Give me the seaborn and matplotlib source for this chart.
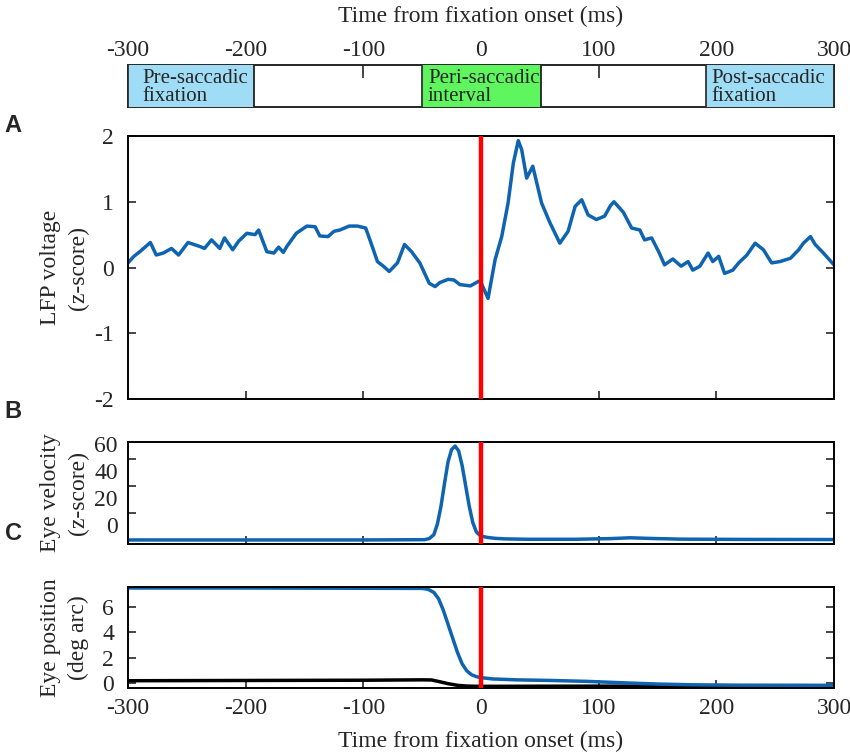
import numpy as np
import pandas as pd
import matplotlib
matplotlib.use("Agg")
import matplotlib.pyplot as plt
import matplotlib.transforms as mtransforms
import seaborn as sns

# ----------------------------------------
# Data
# ----------------------------------------
lfp_t = [-300, -295, -290, -281, -276, -270, -263, -257, -249, -239, -235, -229,
         -222, -218, -211, -206, -199, -192, -189, -182, -176, -172, -168, -165,
         -157, -148, -141, -137, -130, -125, -120, -112, -105, -98, -94, -88,
         -83, -78, -71, -65, -59, -52, -44, -39, -35, -28, -23, -18, -9, -2,
         0, 6, 12, 17.6, 23, 27.5, 31.7, 34.6, 38.8, 44, 51.5, 58.6, 67, 74,
         80, 85.6, 91, 98, 105, 110, 113, 121, 128, 135, 139, 145, 151, 156,
         163, 170, 176, 180, 186, 193, 197, 202, 207, 214, 219, 226, 233, 240,
         247, 254, 263, 270, 274, 280, 284, 291, 300]
lfp_v = [0.07, 0.17, 0.24, 0.38, 0.19, 0.22, 0.29, 0.19, 0.38, 0.32, 0.29, 0.42,
         0.29, 0.45, 0.27, 0.40, 0.52, 0.50, 0.57, 0.24, 0.22, 0.31, 0.23, 0.32,
         0.52, 0.63, 0.62, 0.48, 0.47, 0.55, 0.57, 0.63, 0.63, 0.60, 0.40, 0.09,
         0.02, -0.06, 0.07, 0.35, 0.24, 0.07, -0.24, -0.29, -0.23, -0.18, -0.19,
         -0.26, -0.28, -0.21, -0.23, -0.47, 0.12, 0.47, 0.98, 1.59, 1.93, 1.79,
         1.36, 1.54, 0.98, 0.68, 0.37, 0.55, 0.93, 1.03, 0.80, 0.73, 0.78, 0.94,
         1.00, 0.84, 0.60, 0.57, 0.42, 0.45, 0.24, 0.04, 0.13, 0.02, 0.09, -0.04,
         0.02, 0.22, 0.09, 0.17, -0.09, -0.04, 0.07, 0.19, 0.37, 0.27, 0.07, 0.09,
         0.14, 0.27, 0.37, 0.47, 0.35, 0.22, 0.04]

vel_t = [-300, -200, -100, -48, -44, -40, -37, -34, -31, -28, -25, -22, -19,
         -16, -13, -10, -7, -4, -1, 2, 6, 12, 20, 40, 80, 110, 127, 145, 170,
         220, 300]
vel_v = [0, 0, 0, 0.2, 1, 4, 12, 25, 42, 58, 67, 69.6, 66, 55, 40, 25, 13, 6,
         3.5, 2.5, 1.8, 1.2, 0.8, 0.5, 0.5, 1.0, 1.6, 1.1, 0.6, 0.4, 0.3]
vel_tick_labels = ["0", "20", "40", "60"]

pos_t = [-300, -200, -100, -50, -45, -40, -36, -32, -28, -24, -20, -16, -12,
         -8, -4, 0, 10, 30, 60, 90, 120, 150, 180, 220, 300]
pos_h = [7.45, 7.45, 7.43, 7.42, 7.35, 7.1, 6.6, 5.7, 4.6, 3.5, 2.4, 1.5, 0.95,
         0.65, 0.5, 0.42, 0.32, 0.25, 0.2, 0.13, 0.02, -0.08, -0.14, -0.17, -0.18]
pos2_t = [-300, -200, -100, -50, -42, -35, -28, -20, -12, 0, 50, 150, 300]
pos2_v = [0.18, 0.2, 0.22, 0.25, 0.24, 0.1, -0.05, -0.18, -0.24, -0.26, -0.25,
          -0.24, -0.23]

epoch_names = ["Pre-saccadic\nfixation", "Peri-saccadic\ninterval", "Post-saccadic\nfixation"]
epoch_start = [-300, -50, 191]
epoch_end = [-193, 51, 300]
epoch_colors = ["#9fdcf6", "#5ef55e", "#9fdcf6"]

time_ticks = [-300, -200, -100, 0, 100, 200, 300]

# ----------------------------------------
# Style
# ----------------------------------------
sns.set_style("ticks")
plt.rcParams["font.family"] = ["Liberation Serif", "DejaVu Serif"]
plt.rcParams["axes.unicode_minus"] = False
plt.rcParams["xtick.direction"] = "in"
plt.rcParams["ytick.direction"] = "in"
plt.rcParams["axes.linewidth"] = 1.4
plt.rcParams["xtick.major.width"] = 1.2
plt.rcParams["ytick.major.width"] = 1.2
plt.rcParams["xtick.major.size"] = 6
plt.rcParams["ytick.major.size"] = 6

blue = "#0e64b0"
red = "#ff0000"
fs = 17

fig = plt.figure(figsize=(8.5, 7.53), dpi=100)

W, H = 850.0, 753.0
def add_ax(x0, y0, x1, y1):
    return fig.add_axes([x0 / W, 1 - y1 / H, (x1 - x0) / W, (y1 - y0) / H])

ax_top = add_ax(128, 65, 834, 107)
ax_a = add_ax(128, 136, 834, 399)
ax_b = add_ax(128, 442, 834, 544)
ax_c = add_ax(128, 587, 834, 688)

# ----------------------------------------
# Epoch bar
# ----------------------------------------
ax_top.set_xlim(-300, 300)
ax_top.set_ylim(0, 1)
for name, s, e, c in zip(epoch_names, epoch_start, epoch_end, epoch_colors):
    ax_top.axvspan(s, e, color=c, zorder=3, lw=0)
    ax_top.axvline(s, color="#333333", lw=1.3, zorder=3.5)
    ax_top.axvline(e, color="#222222", lw=1.3, zorder=3.5)
    ax_top.text(s + (12 if s == -300 else 5), 0.47, name, fontsize=15,
                va="center", ha="left", linespacing=0.92, zorder=4)
ax_top.xaxis.tick_top()
ax_top.xaxis.set_label_position("top")
ax_top.set_xticks(time_ticks)
ax_top.set_yticks([])
ax_top.tick_params(axis="x", labelsize=fs, pad=3, length=9)
ax_top.set_xlabel("Time from fixation onset (ms)", fontsize=fs, labelpad=13)

# ----------------------------------------
# A: LFP
# ----------------------------------------
df_lfp = pd.DataFrame({"t": lfp_t, "v": lfp_v})
sns.lineplot(data=df_lfp, x="t", y="v", ax=ax_a, color=blue, lw=2.5)
ax_a.set_ylim(-2, 2)
ax_a.set_yticks([-2, -1, 0, 1, 2])
ax_a.set_ylabel("LFP voltage\n(z-score)", fontsize=fs, linespacing=1.45)

# ----------------------------------------
# B: eye velocity (labels sit a little above their tick marks, as in the original)
# ----------------------------------------
df_vel = pd.DataFrame({"t": vel_t, "v": vel_v})
sns.lineplot(data=df_vel, x="t", y="v", ax=ax_b, color=blue, lw=2.5)
ax_b.set_ylim(-3, 72.6)
vel_ticks = [float(v) for v in vel_tick_labels]
ax_b.set_yticks(vel_ticks)
ax_b.set_yticklabels([])
lab_tr = mtransforms.blended_transform_factory(ax_b.transAxes, ax_b.transData) + \
    mtransforms.ScaledTranslation(-10 / 100.0, 12 / 100.0, fig.dpi_scale_trans)
for v, s in zip(vel_ticks, vel_tick_labels):
    ax_b.text(0, v, s, transform=lab_tr, ha="right", va="center", fontsize=fs)
ax_b.set_ylabel("Eye velocity\n(z-score)", fontsize=fs, linespacing=1.45)

# ----------------------------------------
# C: eye position
# ----------------------------------------
df_pos = pd.DataFrame({"t": pos_t, "v": pos_h})
df_pos2 = pd.DataFrame({"t": pos2_t, "v": pos2_v})
sns.lineplot(data=df_pos2, x="t", y="v", ax=ax_c, color="black", lw=2.5)
sns.lineplot(data=df_pos, x="t", y="v", ax=ax_c, color=blue, lw=2.5)
ax_c.set_ylim(-0.39, 7.53)
ax_c.set_yticks([0, 2, 4, 6])
ax_c.set_ylabel("Eye position\n(deg arc)", fontsize=fs, linespacing=1.45)
ax_c.set_xlabel("Time from fixation onset (ms)", fontsize=fs, labelpad=9)

for ax in (ax_a, ax_b, ax_c):
    ax.set_xlim(-300, 300)
    ax.set_xticks(time_ticks)
    ax.axvline(0, color=red, lw=3.2, zorder=5)
    ax.tick_params(axis="y", right=True, labelsize=fs, pad=10)
    ax.tick_params(axis="x", labelsize=fs, pad=7)
    ax.yaxis.set_label_coords(-0.055, 0.5)
    for sp in ax.spines.values():
        sp.set_visible(True)
        sp.set_color("black")
    if ax is not ax_c:
        ax.set_xlabel("")
        ax.tick_params(axis="x", labelbottom=False)

# panel letters
for letter, y in zip(["A", "B", "C"], [125, 412, 533]):
    fig.text(13 / W, 1 - y / H, letter, fontsize=17, fontweight="bold",
             family="Liberation Sans", ha="center", va="center")

fig.savefig("out.png", dpi=100)
